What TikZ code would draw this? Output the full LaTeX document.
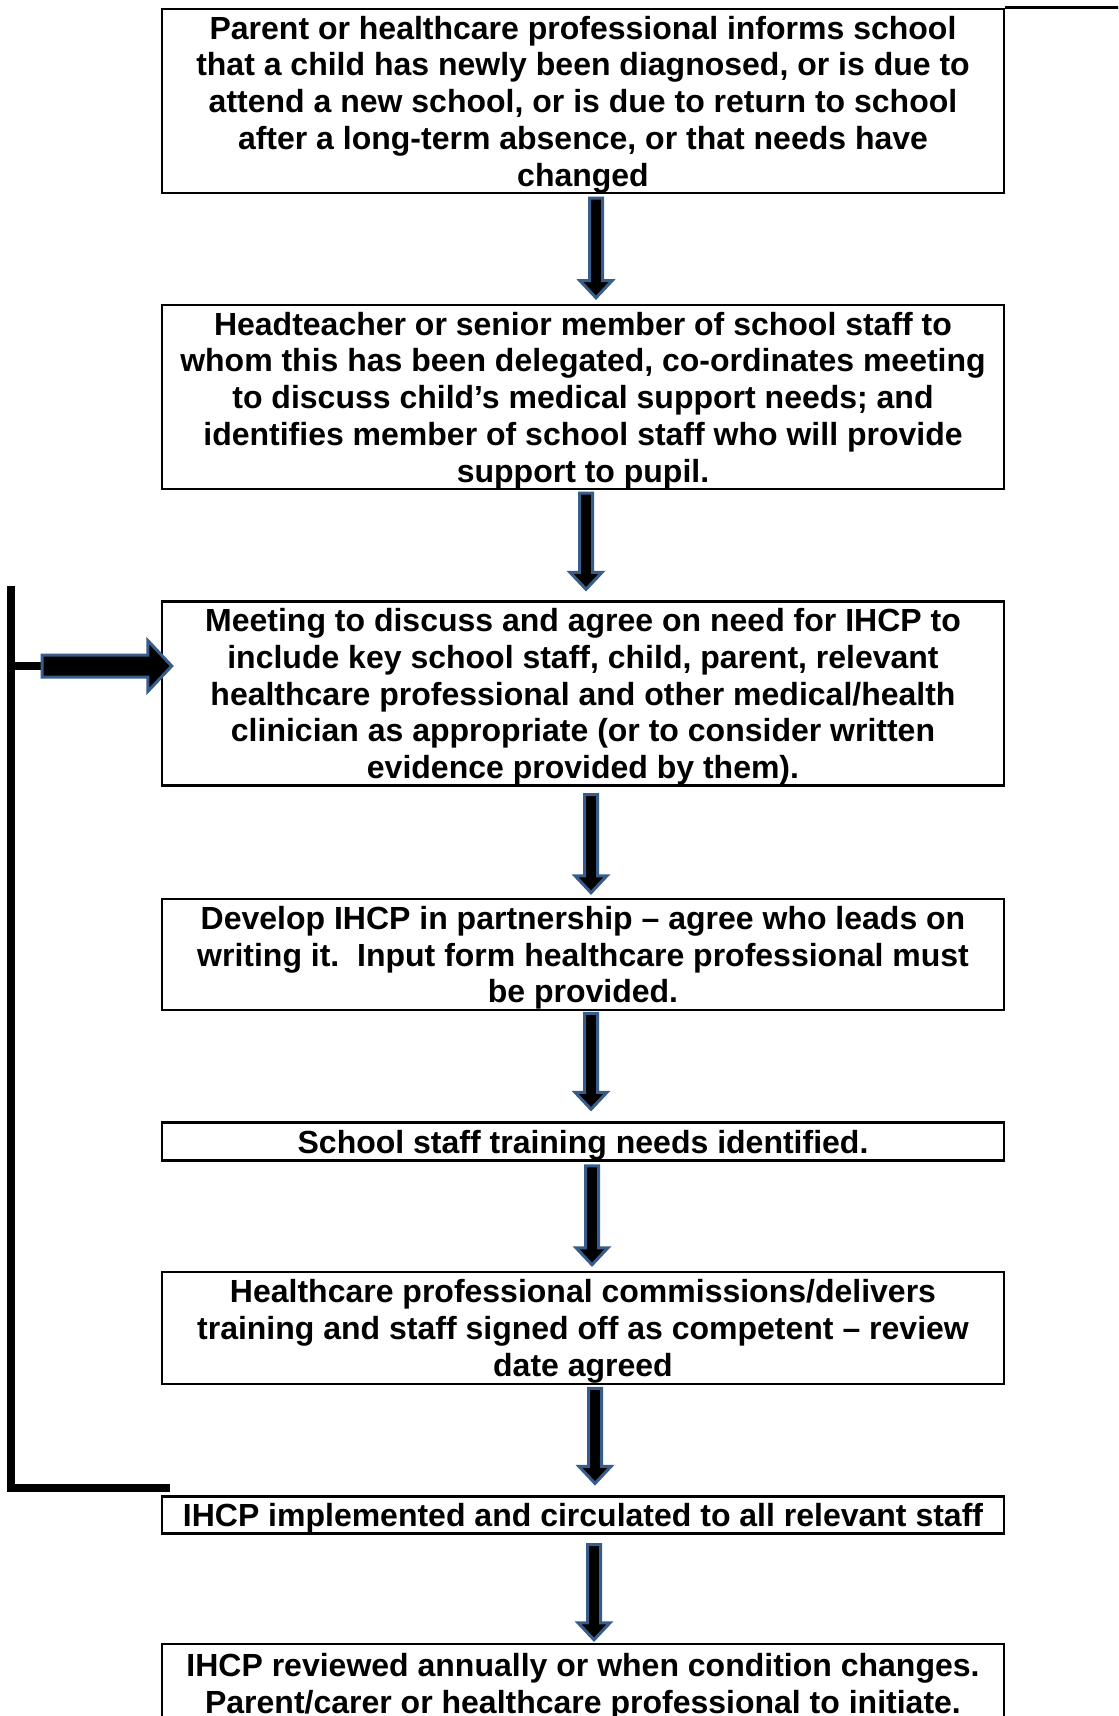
\documentclass[tikz,border=0pt]{standalone}
\usepackage{fontspec}
\setmainfont{Liberation Sans}
\usetikzlibrary{calc}
\definecolor{arrowblue}{RGB}{56,93,138}

\begin{document}
\begin{tikzpicture}[x=0.5pt, y=-0.5pt, line join=miter,
    stepbox/.style={draw, line width=1.25pt, minimum width=421pt, inner sep=0pt, align=center,
      font=\bfseries\fontsize{16}{18.4}\selectfont},
    loopline/.style={line width=4pt},
    downarrow/.style={fill=black, draw=arrowblue, line width=1.5pt,
      to path={let \p1=(\tikztostart), \p2=(\tikztotarget) in
        (\x1-3.25pt,\y1) -- (\x1-3.25pt,\y2+8.5pt) -- (\x1-8pt,\y2+8.5pt) -- (\x1,\y2)
        -- (\x1+8pt,\y2+8.5pt) -- (\x1+3.25pt,\y2+8.5pt) -- (\x1+3.25pt,\y1) -- cycle}},
    rightarrow/.style={fill=black, draw=arrowblue, line width=1.5pt,
      to path={let \p1=(\tikztostart), \p2=(\tikztotarget) in
        (\x1,\y1+5.5pt) -- (\x2-12pt,\y1+5.5pt) -- (\x2-12pt,\y1+12.75pt) -- (\x2,\y1)
        -- (\x2-12pt,\y1-12.75pt) -- (\x2-12pt,\y1-5.5pt) -- (\x1,\y1-5.5pt) -- cycle}}]
    \useasboundingbox (0,0) rectangle (1118,1716);
    \clip (0,0) rectangle (1118,1716);

    % the steps (the rule lowers the text a little)
    \node[stepbox, minimum height=92pt] (b1) at (583,101) {\rule{0pt}{15pt}Parent or healthcare professional informs school\\
      that a child has newly been diagnosed, or is due to\\
      attend a new school, or is due to return to school\\
      after a long-term absence, or that needs have\\
      changed};
    \node[stepbox, minimum height=92pt] (b2) at (583,397) {\rule{0pt}{15pt}Headteacher or senior member of school staff to\\
      whom this has been delegated, co-ordinates meeting\\
      to discuss child’s medical support needs; and\\
      identifies member of school staff who will provide\\
      support to pupil.};
    \node[stepbox, minimum height=91.5pt] (b3) at (583,693.5) {\rule{0pt}{15pt}Meeting to discuss and agree on need for IHCP to\\
      include key school staff, child, parent, relevant\\
      healthcare professional and other medical/health\\
      clinician as appropriate (or to consider written\\
      evidence provided by them).};
    \node[stepbox, minimum height=55.5pt] (b4) at (583,954.5) {\rule{0pt}{15pt}Develop IHCP in partnership – agree who leads on\\
      writing it.\ \ Input form healthcare professional must\\
      be provided.};
    \node[stepbox, minimum height=19pt] (b5) at (583,1141.5) {\rule{0pt}{15pt}School staff training needs identified.};
    \node[stepbox, minimum height=56pt] (b6) at (583,1328) {\rule{0pt}{15pt}Healthcare professional commissions/delivers\\
      training and staff signed off as competent – review\\
      date agreed};
    \node[stepbox, minimum height=18pt] (b7) at (583,1515) {\rule{0pt}{15pt}IHCP implemented and circulated to all relevant staff};
    \node[stepbox, minimum height=38pt] (b8) at (583,1682) {\rule{0pt}{16pt}IHCP reviewed annually or when condition changes.\\
      Parent/carer or healthcare professional to initiate.};
    \draw[line width=1.25pt] (b1.north east) -- ++(140,0);

    % arrows between steps
    \draw[downarrow] ([xshift=6.5pt,yshift=-2pt]b1.south) to ([xshift=6.5pt,yshift=3pt]b2.north);
    \draw[downarrow] ([xshift=1.5pt,yshift=-1.5pt]b2.south) to ([xshift=1.5pt,yshift=5.5pt]b3.north);
    \draw[downarrow] ([xshift=4pt,yshift=-4pt]b3.south) to ([xshift=4pt,yshift=2.5pt]b4.north);
    \draw[downarrow] ([xshift=4pt,yshift=-1pt]b4.south) to ([xshift=4pt,yshift=6pt]b5.north);
    \draw[downarrow] ([xshift=4.5pt,yshift=-2pt]b5.south) to ([xshift=4.5pt,yshift=3pt]b6.north);
    \draw[downarrow] ([xshift=6pt,yshift=-1.5pt]b6.south) to ([xshift=6pt,yshift=6pt]b7.north);
    \draw[downarrow] ([xshift=5.5pt,yshift=-5pt]b7.south) to ([xshift=5.5pt,yshift=1.5pt]b8.north);

    % loop back to the meeting
    \coordinate (looptop) at (11,586);
    \coordinate (loopbot) at (170,1488);
    \coordinate (feed) at (11,666);
    \coordinate (feedend) at (42,666);
    \draw[loopline] (loopbot) -| (looptop);
    \draw[loopline] (feed) -- (feedend);
    \draw[rightarrow] (feedend) to ([xshift=5.5pt]b3.west |- feedend);
\end{tikzpicture}
\end{document}
